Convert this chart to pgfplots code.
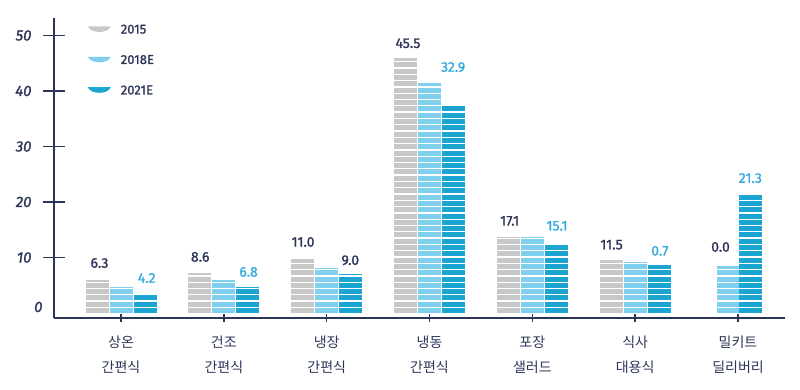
\documentclass[border=0pt]{standalone}
\usepackage{fontspec}
\setmainfont{Fira Sans}
\newfontfamily\numf{Fira Sans}[FakeBold=1.3]
\newfontfamily\kr{Noto Sans CJK KR}
\usepackage{pgfplots}
\pgfplotsset{compat=1.18}
\definecolor{g15}{HTML}{C8C8C8}
\definecolor{b18}{HTML}{80CFEE}
\definecolor{b21}{HTML}{1CA5D0}
\definecolor{navy}{HTML}{2C3558}
\definecolor{lblue}{HTML}{35A9DD}
\tikzset{bowls/.style={line width=23pt, line cap=butt, dash pattern=on 5pt off 1.3pt},
  bowlicon/.style={fill=#1, draw=none, line width=0pt, solid}}
\newcommand\bowl[1]{\path[bowlicon=#1] (0pt,3.5pt) -- (23pt,3.5pt) .. controls (20pt,-4pt) and (3pt,-4pt) .. cycle;}
\begin{document}
\begin{tikzpicture}
\begin{axis}[
  scale only axis, width=731pt, height=300pt,
  xmin=-0.652, xmax=6.457, ymin=-0.9, ymax=53.15,
  clip=false,
  axis lines=left,
  axis line style={navy, line width=1.4pt, -},
  xtick={0,...,6},
  xticklabels={{상온\\간편식},{건조\\간편식},{냉장\\간편식},{냉동\\간편식},{포장\\샐러드},{식사\\대용식},{밀키트\\딜리버리}},
  xticklabel style={font=\kr\fontsize{14}{25}\selectfont, align=center, text=navy, yshift=-3pt},
  ytick={10,20,30,40,50},
  extra y ticks={0},
  extra y tick style={major tick length=0pt, yticklabel style={yshift=6pt}},
  tick align=center,
  major tick length=22pt,
  xtick style={/pgfplots/major tick length=8pt},
  tick style={navy, line width=1.4pt},
  yticklabel style={font=\numf\fontsize{15}{18}\selectfont\itshape, text=navy, xshift=-8pt},
  /pgf/number format/assume math mode=true,
  legend style={at={(rel axis cs:0.046,0.985)}, anchor=north west, draw=none, fill=none,
    font=\numf\fontsize{13}{15}\selectfont, text=navy, row sep=16pt, inner sep=0pt,
    /tikz/every odd column/.append style={column sep=8pt}},
  legend cell align=left,
]
\coordinate (o) at (rel axis cs:0,0);
\addplot[ycomb, g15, bowls, legend image code/.code={\bowl{g15}}]
  coordinates {(-0.2335,5.9) (0.7665,7.2) (1.7665,9.7) (2.7665,46.0) (3.7665,13.7) (4.7665,9.5)};
\addplot[ycomb, b18, bowls, legend image code/.code={\bowl{b18}}]
  coordinates {(0,4.7) (1,5.9) (2,8.1) (3,41.5) (4,13.7) (5,9.2) (5.91,8.5)};
\addplot[ycomb, b21, bowls, legend image code/.code={\bowl{b21}}]
  coordinates {(0.2335,3.4) (1.2335,4.7) (2.2335,7.0) (3.2335,37.4) (4.2335,12.2) (5.2335,8.6) (6.12,21.2)};
\legend{2015,2018E,2021E}
\addplot[forget plot, draw=none, mark=none, nodes near coords, point meta=explicit symbolic,
  nodes near coords style={anchor=center, text=navy, font=\numf\fontsize{14}{16}\selectfont}]
  table[meta=l]{
x y l
-0.21 9.0 6.3
0.77 10.1 8.6
1.77 12.8 11.0
2.23 9.5 9.0
2.79 48.6 45.5
3.78 16.6 17.1
4.77 12.3 11.5
5.83 11.9 0.0
};
\addplot[forget plot, draw=none, mark=none, nodes near coords, point meta=explicit symbolic,
  nodes near coords style={anchor=center, text=lblue, font=\numf\fontsize{14}{16}\selectfont}]
  table[meta=l]{
x y l
0.25 6.3 4.2
1.24 7.4 6.8
3.23 44.3 32.9
4.24 15.7 15.1
5.24 11.2 0.7
6.12 24.3 21.3
};
\end{axis}
\pgfresetboundingbox
\path (o) ++(-54pt,-72pt) rectangle ++(800pt,390pt);
\end{tikzpicture}
\end{document}
